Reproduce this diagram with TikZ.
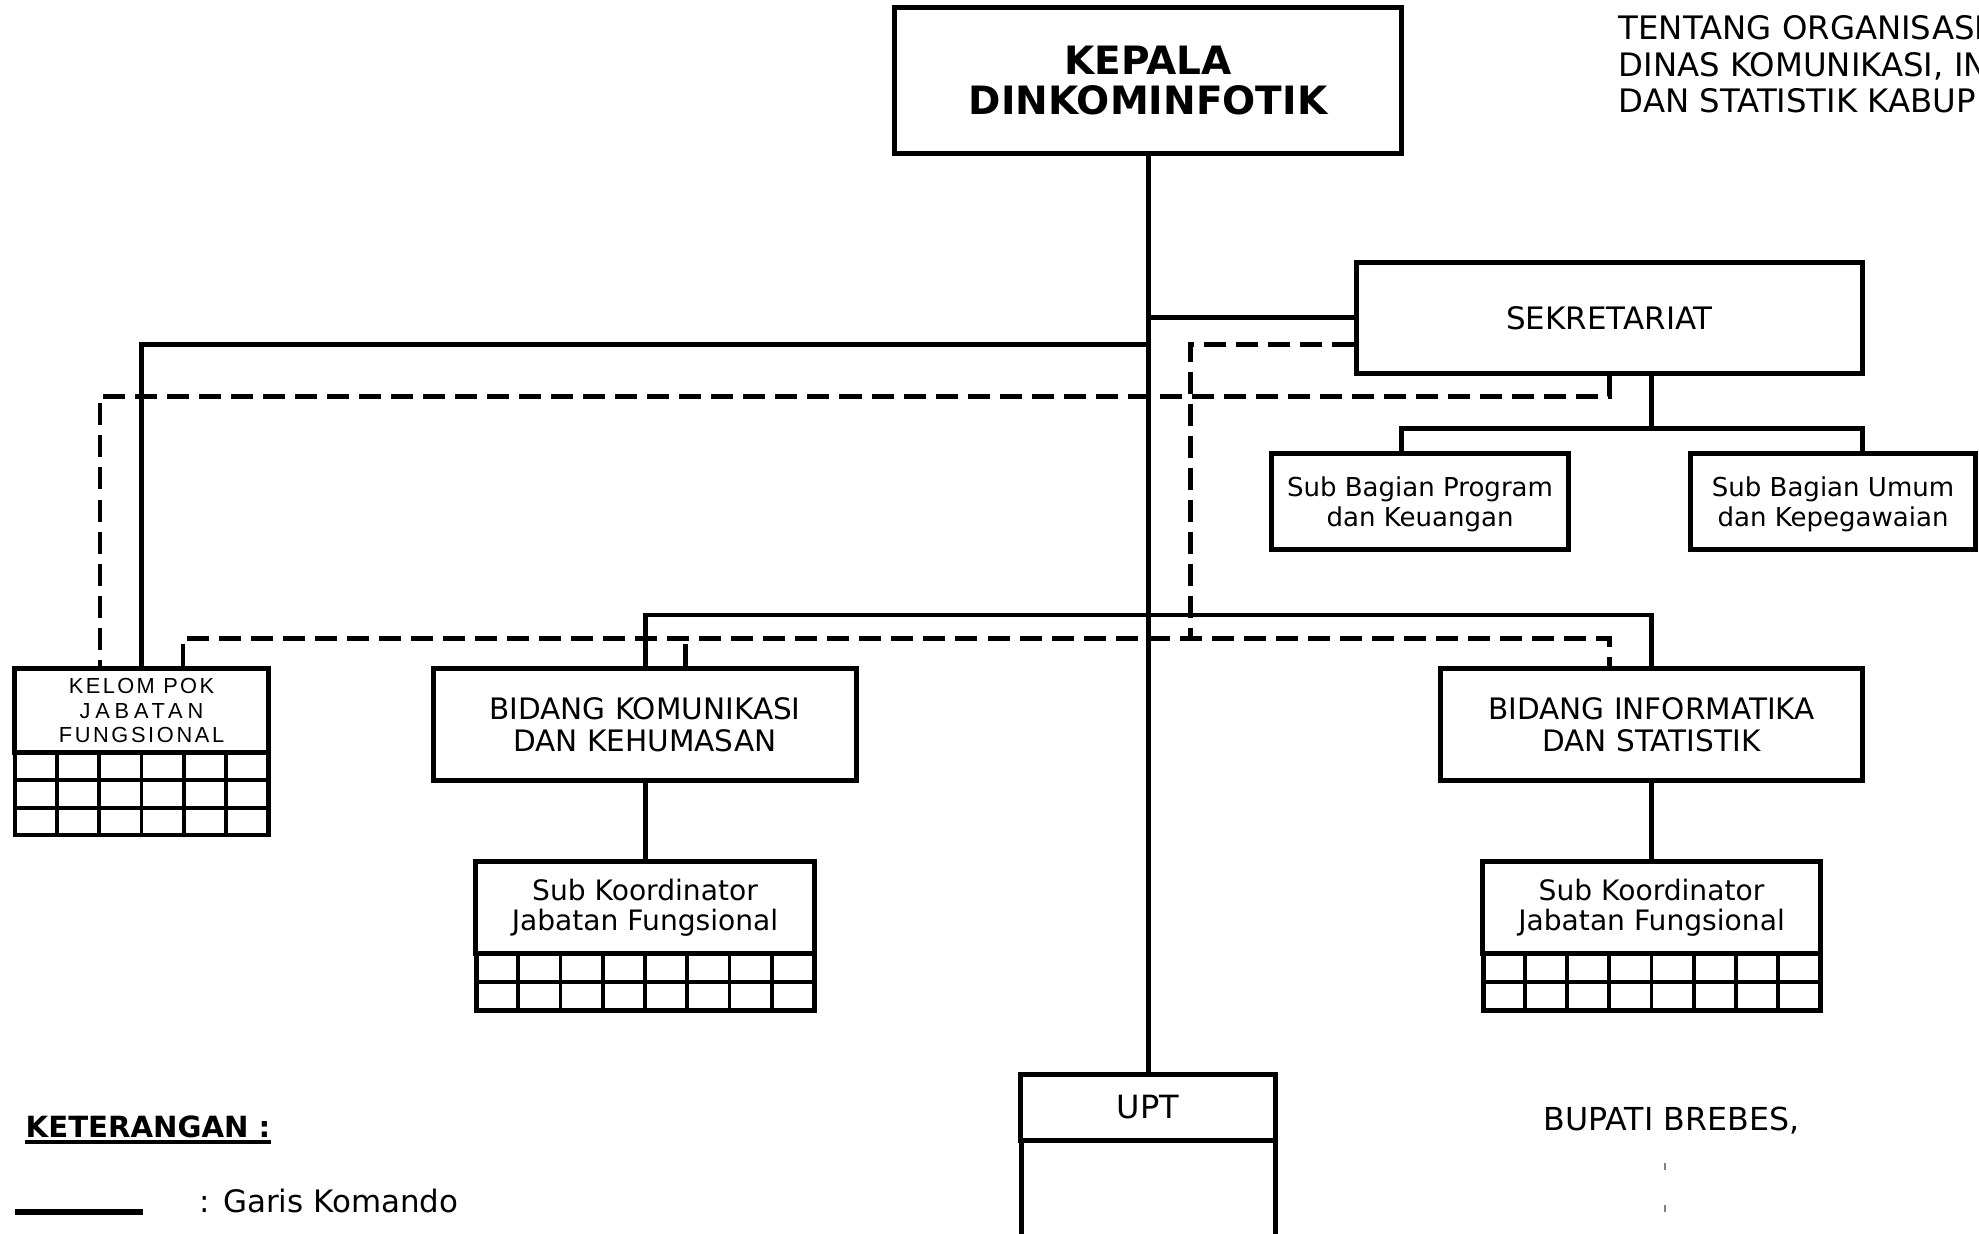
\documentclass[tikz,border=0pt]{standalone}
\usepackage{fontspec}
\setmainfont{DejaVu Sans}
\newfontfamily\arialf{Liberation Sans}
\usetikzlibrary{calc}
\begin{document}
\begin{tikzpicture}[x=0.01cm,y=-0.01cm,
  box/.style={draw,line width=1.42pt,inner sep=0pt,align=center},
  cmd/.style={line width=1.42pt},
  crd/.style={line width=1.42pt,dash pattern=on 0.22cm off 0.10cm},
  grd/.style={line width=1.1pt},
  txt/.style={anchor=base west,inner sep=0pt}]
\fill[white] (0,0) rectangle (1979,1234);
\useasboundingbox (0,0) rectangle (1979,1234);

% boxes
\node[box,minimum width=5.06cm,minimum height=1.45cm,font=\bfseries\fontsize{11.1pt}{11.4pt}\selectfont] (kepala) at (1148,80.5) {KEPALA\\DINKOMINFOTIK};
\node[box,minimum width=5.05cm,minimum height=1.11cm,font=\fontsize{8.8pt}{10pt}\selectfont] (sek) at (1609.5,318) {SEKRETARIAT};
\node[box,minimum width=2.96cm,minimum height=0.95cm,font=\fontsize{7.4pt}{8.5pt}\selectfont] (sbp) at (1420,501.5) {\rule{0pt}{7pt}Sub Bagian Program\\dan Keuangan};
\node[box,minimum width=2.84cm,minimum height=0.95cm,font=\fontsize{7.4pt}{8.5pt}\selectfont] (sbu) at (1833,501.5) {\rule{0pt}{7pt}Sub Bagian Umum\\dan Kepegawaian};
\node[box,minimum width=4.22cm,minimum height=1.11cm,font=\fontsize{8.4pt}{9pt}\selectfont] (bkom) at (645,724.5) {BIDANG KOMUNIKASI\\DAN KEHUMASAN};
\node[box,minimum width=4.21cm,minimum height=1.11cm,font=\fontsize{8.4pt}{9pt}\selectfont] (binf) at (1651.5,724.5) {BIDANG INFORMATIKA\\DAN STATISTIK};
\node[box,minimum width=3.38cm,minimum height=0.91cm,font=\fontsize{8pt}{8.5pt}\selectfont] (skl) at (645,907.5) {Sub Koordinator\\Jabatan Fungsional};
\node[box,minimum width=3.37cm,minimum height=0.91cm,font=\fontsize{8pt}{8.5pt}\selectfont] (skr) at (1651.5,907.5) {Sub Koordinator\\Jabatan Fungsional};
\node[box,minimum width=2.53cm,minimum height=0.83cm,font=\arialf\fontsize{6.2pt}{7.1pt}\selectfont] (kjf) at (141.5,710.5) {{\addfontfeature{LetterSpace=11}KELOM POK}\\{\addfontfeature{LetterSpace=22}JABATAN}\\{\addfontfeature{LetterSpace=12}FUNGSIONAL}};
\node[box,minimum width=2.54cm,minimum height=0.65cm,font=\fontsize{9.1pt}{10pt}\selectfont] (upt) at (1148,1107.5) {UPT};

% grids
\draw[grd] (15,752) rectangle (268,835);
\foreach \yy in {780,808} \draw[grd] (15,\yy) -- (268,\yy);
\foreach \i in {1,...,5} \draw[grd] (15+42.17*\i,752) -- (15+42.17*\i,835);
\draw[line width=1.42pt] (15,752) rectangle (268,835);

\foreach \xa/\xb in {476/814,1483/1820}{
  \draw[grd] (\xa,982) -- (\xb,982);
  \foreach \i in {1,...,7} \draw[grd] ({\xa+(\xb-\xa)/8*\i},953) -- ({\xa+(\xb-\xa)/8*\i},1013);
  \draw[line width=1.42pt] (\xa,953) rectangle (\xb,1010);
}
\draw[line width=1.42pt] (1021,1140) -- (1021,1260);
\draw[line width=1.42pt] (1275,1140) -- (1275,1260);

% command lines
\draw[cmd] (kepala.south) -- (upt.north);
\draw[cmd] (kepala.south |- sek.west) -- (sek.west);
\coordinate (jkf) at (1148,344.5);
\draw[cmd] (jkf) -| (kjf.north);
\coordinate (jb) at (1148,615);
\draw[cmd] (bkom.north) |- (jb) -| (binf.north);
\draw[cmd] (bkom.south) -- (skl.north);
\draw[cmd] (binf.south) -- (skr.north);
\coordinate (js) at (1651,429);
\draw[cmd] ($(sek.south)+(41.5,0)$) -- (js);
\draw[cmd] ($(sbp.north)+(-19,0)$) |- (js) -| ($(sbu.north)+(29,0)$);

% coordination lines
\coordinate (dk) at (1190,344.5);
\coordinate (dl) at (1190,641);
\draw[crd] (sek.west |- dk) -- (dk) -- (dl);
\draw[crd] ($(kjf.north)+(41.5,0)$) |- ($(binf.north)+(-42.5,-28)$) -- ($(binf.north)+(-42.5,0)$);
\draw[crd] ($(bkom.north)+(40,0)$) -- ++(0,-28);
\draw[crd] (sek.south) |- ($(kjf.north)+(-41.5,-270)$) -- ($(kjf.north)+(-41.5,0)$);

% header text
\node[txt,font=\fontsize{9.2pt}{10pt}\selectfont] (t1) at (1618,40) {TENTANG ORGANISASI};
\node[txt,font=\fontsize{9.2pt}{10pt}\selectfont] (t2) at (1618,77) {DINAS KOMUNIKASI, IN};
\node[txt,font=\fontsize{9.2pt}{10pt}\selectfont] (t3) at (1618,113) {DAN STATISTIK KABUP};

% legend
\node[txt,font=\bfseries\fontsize{8.3pt}{9pt}\selectfont] (ket) at (25,1137) {KETERANGAN :};
\draw[line width=0.9pt] ($(ket.base west)+(0,5)$) -- ($(ket.base east)+(0,5)$);
\coordinate (lg1) at (15,1212);
\coordinate (lg2) at (143,1212);
\draw[line width=1.7pt] (lg1) -- (lg2);
\node[txt,font=\fontsize{8.8pt}{9pt}\selectfont] (gk) at (199,1212) {: Garis Komando};

% signature
\node[txt,font=\fontsize{9pt}{10pt}\selectfont] (bup) at (1543,1130) {BUPATI BREBES,};
\draw[gray,line width=0.6pt] (1665,1163) -- (1665,1170);
\draw[gray,line width=0.6pt] (1665,1205) -- (1665,1212);
\end{tikzpicture}
\end{document}
